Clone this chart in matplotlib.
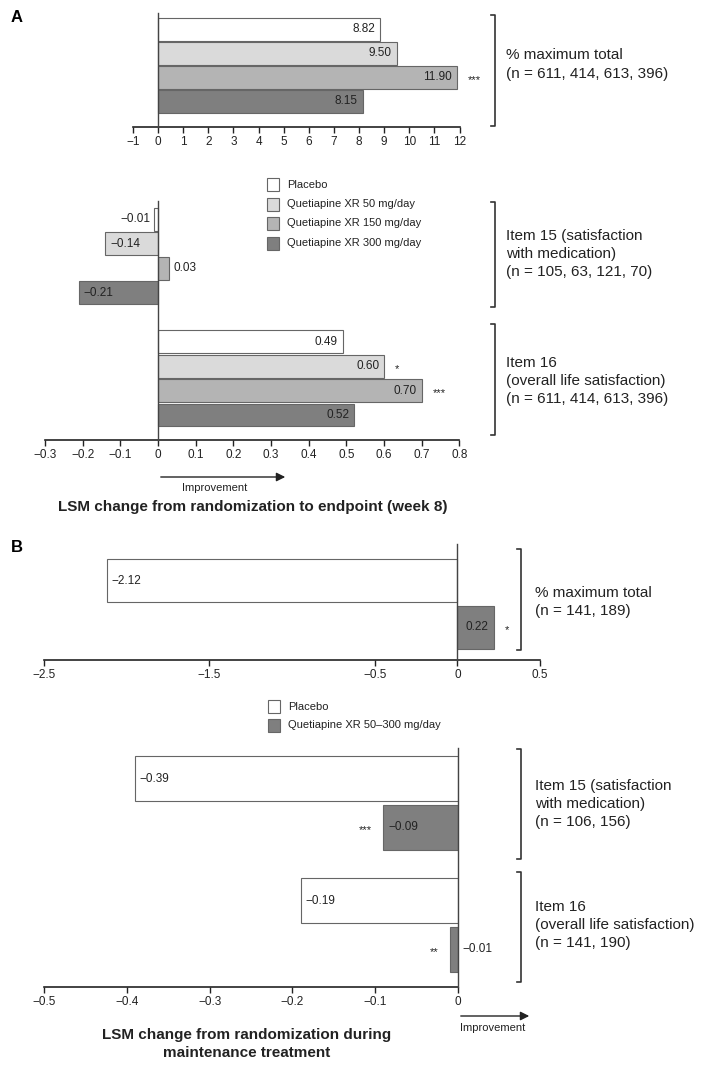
import numpy as np
import matplotlib
matplotlib.use('Agg')
import matplotlib.pyplot as plt
from matplotlib.patches import Rectangle, FancyArrowPatch
from matplotlib.lines import Line2D
from matplotlib.ticker import FuncFormatter

plt.rcParams['font.family'] = ['Liberation Sans', 'DejaVu Sans']

W, H = 706, 1069  # figure size in pixels (dpi 100)

# ========== data ==========
# panel A: acute treatment, 4 arms
arms_a = ['Placebo', 'Quetiapine XR 50 mg/day', 'Quetiapine XR 150 mg/day', 'Quetiapine XR 300 mg/day']
colors_a = ['#ffffff', '#dadada', '#b4b4b4', '#7f7f7f']

pct_total_a = [8.82, 9.50, 11.90, 8.15]
pct_total_a_sig = ['', '', '***', '']
item15_a = [-0.01, -0.14, 0.03, -0.21]
item15_a_sig = ['', '', '', '']
item16_a = [0.49, 0.60, 0.70, 0.52]
item16_a_sig = ['', '*', '***', '']

ticks_a_top = [-1, 0, 1, 2, 3, 4, 5, 6, 7, 8, 9, 10, 11, 12]
ticks_a_mid = [-0.3, -0.2, -0.1, 0, 0.1, 0.2, 0.3, 0.4, 0.5, 0.6, 0.7, 0.8]

groups_a = ['% maximum total\n(n = 611, 414, 613, 396)',
            'Item 15 (satisfaction\nwith medication)\n(n = 105, 63, 121, 70)',
            'Item 16\n(overall life satisfaction)\n(n = 611, 414, 613, 396)']

# panel B: maintenance treatment, 2 arms
arms_b = ['Placebo', 'Quetiapine XR 50\u2013300 mg/day']
colors_b = ['#ffffff', '#7f7f7f']

pct_total_b = [-2.12, 0.22]
pct_total_b_sig = ['', '*']
item15_b = [-0.39, -0.09]
item15_b_sig = ['', '***']
item16_b = [-0.19, -0.01]
item16_b_sig = ['', '**']

ticks_b_top = [-2.5, -1.5, -0.5, 0, 0.5]
ticks_b_bot = [-0.5, -0.4, -0.3, -0.2, -0.1, 0]

groups_b = ['% maximum total\n(n = 141, 189)',
            'Item 15 (satisfaction\nwith medication)\n(n = 106, 156)',
            'Item 16\n(overall life satisfaction)\n(n = 141, 190)']

EDGE = '#666666'
INK = '#222222'


def fx(x):
    return x / W


def fy(y):
    return 1 - y / H


def minus(s):
    return s.replace('-', '\u2212')


def panel(fig, box, pos, centers, vals, colors, sigs, sides, xlim, ticks, hfrac):
    """box = (x0, x1, ytop, ybot) in pixels, centers = pixel y of first/last bar"""
    x0, x1, yt, yb = box
    ax = fig.add_axes([fx(x0), fy(yb), (x1 - x0) / W, (yb - yt) / H])
    pitch = (centers[1] - centers[0]) / (pos[-1] - pos[0])
    top = pos[0] - (centers[0] - yt) / pitch
    bot = pos[-1] + (yb - centers[1]) / pitch
    ax.barh(pos, vals, height=hfrac, color=colors, edgecolor=EDGE, linewidth=0.8, zorder=2)
    ax.set_xlim(*xlim)
    ax.set_ylim(bot, top)
    ax.axvline(0, color='#444444', lw=1.0, zorder=3, clip_on=False)
    for s in ['top', 'right', 'left']:
        ax.spines[s].set_visible(False)
    ax.spines['bottom'].set_linewidth(1.2)
    ax.spines['bottom'].set_color(INK)
    ax.set_yticks([])
    ax.set_xticks(ticks)
    ax.xaxis.set_major_formatter(FuncFormatter(lambda v, p: minus(f'{v:g}')))
    ax.tick_params(axis='x', direction='out', length=4, width=1, color=INK,
                   labelsize=8.5, labelcolor=INK, pad=2.5)
    ax.patch.set_alpha(0)

    for p, v, sig, side in zip(pos, vals, sigs, sides):
        sgn = 1 if v >= 0 else -1
        txt = minus(f'{v:.2f}')
        if side == 'in':
            ax.annotate(txt, (v, p), xytext=(-3.5 * sgn, 0), textcoords='offset points',
                        ha='right' if sgn > 0 else 'left', va='center', fontsize=8.5, color=INK)
        elif side == 'out':
            ax.annotate(txt, (v, p), xytext=(3 * sgn, 0), textcoords='offset points',
                        ha='left' if sgn > 0 else 'right', va='center', fontsize=8.5, color=INK)
        else:  # beside the zero line
            ax.annotate(txt, (0, p), xytext=(3, 0), textcoords='offset points',
                        ha='left', va='center', fontsize=8.5, color=INK)
        if sig:
            ax.annotate(sig, (v, p), xytext=(8 * sgn, -2), textcoords='offset points',
                        ha='left' if sgn > 0 else 'right', va='center', fontsize=8, color=INK,
                        annotation_clip=False)
    return ax


def bracket(fig, x, y0, y1, label, tx, ty):
    fig.add_artist(Line2D([fx(x - 4), fx(x), fx(x), fx(x - 4)], [fy(y0), fy(y0), fy(y1), fy(y1)],
                          transform=fig.transFigure, color='#333333', lw=1.2))
    fig.text(fx(tx), fy(ty), label, ha='left', va='center', fontsize=11, color=INK, linespacing=1.4)


def legend(fig, names, colors, x, ys):
    for name, c, yc in zip(names, colors, ys):
        fig.add_artist(Rectangle((fx(x), fy(yc + 6.5)), 12 / W, 13 / H, transform=fig.transFigure,
                                 facecolor=c, edgecolor=EDGE, lw=0.8))
        fig.text(fx(x + 20), fy(yc), name, ha='left', va='center', fontsize=8, color=INK)


def arrow(fig, xa, xb, y, tx, ty):
    fig.add_artist(FancyArrowPatch((fx(xa), fy(y)), (fx(xb), fy(y)), transform=fig.transFigure,
                                   arrowstyle='-|>', mutation_scale=13, lw=1, color=INK))
    fig.text(fx(tx), fy(ty), 'Improvement', ha='center', va='center', fontsize=8, color=INK)


fig = plt.figure(figsize=(W / 100, H / 100), dpi=100)

# ---------- A ----------
fig.text(fx(17), fy(18), 'A', fontsize=12, fontweight='bold', ha='center', va='center')
panel(fig, (133, 459.5, 13, 127), [0, 1, 2, 3], (29.5, 101.5), pct_total_a, colors_a,
      pct_total_a_sig, ['in'] * 4, (-1, 12), ticks_a_top, 0.93)
bracket(fig, 495, 15, 126, groups_a[0], 506, 64.5)

pos_a = [0, 1, 2, 3, 5, 6, 7, 8]
panel(fig, (45, 459.5, 201, 440), pos_a, (219.5, 415), item15_a + item16_a, colors_a * 2,
      item15_a_sig + item16_a_sig, ['out', 'in', 'out', 'in', 'in', 'in', 'in', 'in'],
      (-0.3, 0.8), ticks_a_mid, 0.94)
legend(fig, arms_a, colors_a, 267, [184.5, 204, 223.5, 243])
bracket(fig, 495, 202, 307, groups_a[1], 506, 254)
bracket(fig, 495, 324, 435, groups_a[2], 506, 381)
arrow(fig, 158, 288, 477, 215, 488)
fig.text(fx(253), fy(507), 'LSM change from randomization to endpoint (week 8)',
         fontsize=11, fontweight='bold', ha='center', va='center', color=INK)

# ---------- B ----------
fig.text(fx(17), fy(548), 'B', fontsize=12, fontweight='bold', ha='center', va='center')
panel(fig, (44, 540, 544, 660), [0, 1], (580.5, 627.5), pct_total_b, colors_b,
      pct_total_b_sig, ['in', 'in'], (-2.5, 0.5), ticks_b_top, 0.915)
bracket(fig, 521, 549, 650, groups_b[0], 535, 602)
legend(fig, arms_b, colors_b, 268, [706.5, 725])

panel(fig, (44, 458, 748, 987), [0, 1, 2.5, 3.5], (778.5, 949.5), item15_b + item16_b,
      colors_b * 2, item15_b_sig + item16_b_sig, ['in', 'in', 'in', 'base'],
      (-0.5, 0), ticks_b_bot, 0.92)
bracket(fig, 521, 749, 859, groups_b[1], 535, 804)
bracket(fig, 521, 872, 982, groups_b[2], 535, 925)
arrow(fig, 458, 532, 1016, 493, 1028)
fig.text(fx(247), fy(1044), 'LSM change from randomization during\nmaintenance treatment',
         fontsize=11, fontweight='bold', ha='center', va='center', color=INK, linespacing=1.45)

fig.savefig('out.png', dpi=100)
